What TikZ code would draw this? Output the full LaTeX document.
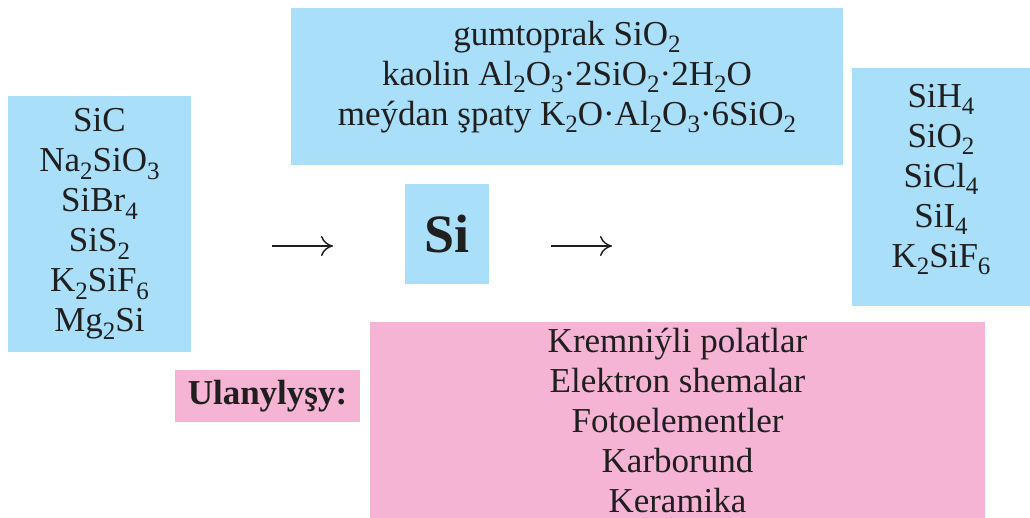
\documentclass[tikz,border=0pt]{standalone}
\usepackage{fontspec}
\setmainfont{Liberation Serif}
\usetikzlibrary{arrows.meta,positioning}
\definecolor{boxblue}{HTML}{A9DFF8}
\definecolor{boxpink}{HTML}{F5B4D4}
\newcommand{\chemsub}[1]{\raisebox{-3.6pt}{\fontsize{12.5}{12.5}\selectfont #1}}

\begin{document}
\begin{tikzpicture}[x=0.5pt, y=-0.5pt]
    % Define styles
    \tikzstyle{bluebox} = [rectangle, fill=boxblue, inner sep=0pt]
    \tikzstyle{pinkbox} = [rectangle, fill=boxpink, inner sep=0pt]
    \tikzstyle{boxtext} = [align=center, inner sep=0pt, text=black!88, font=\fontsize{17.5}{20}\selectfont]
    \tikzstyle{arrow} = [line width=0.7pt, draw=black!88, -{Computer Modern Rightarrow[length=6pt,width=10pt]}]

    \useasboundingbox (0,0) rectangle (1030,518);

    % Boxes
    \node [bluebox, boxtext, minimum width=91.5pt, minimum height=128pt] (sources) at (99.5,224)
        {SiC\\Na\chemsub{2}SiO\chemsub{3}\\SiBr\chemsub{4}\\SiS\chemsub{2}\\K\chemsub{2}SiF\chemsub{6}\\Mg\chemsub{2}Si};
    \node [bluebox, minimum width=276pt, minimum height=78.5pt] (minerals) at (567,86.5) {};
    \node [bluebox, minimum width=89pt, minimum height=119pt] (compounds) at (941,187) {};
    \node [bluebox, boxtext, minimum width=42pt, minimum height=50pt, font=\bfseries\fontsize{27}{30}\selectfont] (si) at (447,234) {Si};
    \node [pinkbox, boxtext, minimum width=92.5pt, minimum height=26pt, font=\bfseries\fontsize{17.5}{20}\selectfont] (usage) at (267.5,396) {Ulanylyşy:};
    \node [pinkbox, minimum width=307.5pt, minimum height=98pt] (apps) at (677.5,420) {};

    % Box texts
    \node [boxtext, anchor=north, below=6.5pt of minerals.north] (mineralstext)
        {gumtoprak SiO\chemsub{2}\\kaolin Al\chemsub{2}O\chemsub{3}·2SiO\chemsub{2}·2H\chemsub{2}O\\meýdan şpaty K\chemsub{2}O·Al\chemsub{2}O\chemsub{3}·6SiO\chemsub{2}};
    \node [boxtext, anchor=north, below=8pt of compounds.north] (compoundstext)
        {SiH\chemsub{4}\\SiO\chemsub{2}\\SiCl\chemsub{4}\\SiI\chemsub{4}\\K\chemsub{2}SiF\chemsub{6}};
    \node [boxtext, anchor=north, below=3pt of apps.north] (appstext)
        {Kremniýli polatlar\\Elektron shemalar\\Fotoelementler\\Karborund\\Keramika};

    % Arrows
    \coordinate (in1) at (272,246);
    \coordinate (in2) at (333,246);
    \coordinate (out1) at (551,246);
    \coordinate (out2) at (612,246);
    \draw [arrow] (in1) -- (in2);
    \draw [arrow] (out1) -- (out2);
\end{tikzpicture}
\end{document}
